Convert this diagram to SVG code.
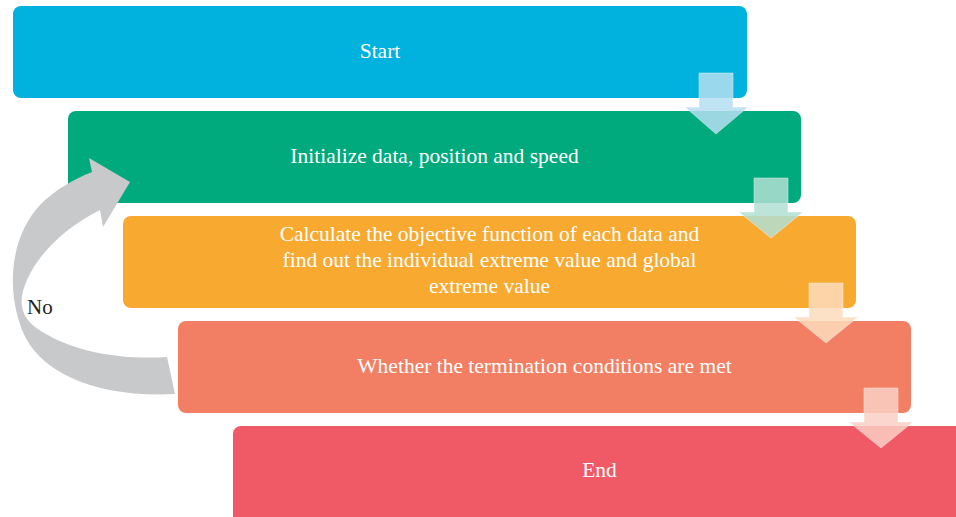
<svg xmlns="http://www.w3.org/2000/svg" width="956" height="517" viewBox="0 0 956 517">
<style>
.box{stroke:none}
.lbl{font-family:"Liberation Serif","Times New Roman",serif;font-size:21.5px;fill:#ffffff;text-anchor:middle}
.no{font-family:"Liberation Serif","Times New Roman",serif;font-size:21px;fill:#231f20}
.arr{stroke:#ffffff;stroke-opacity:0.5;stroke-width:1;opacity:0.85}
</style>
<rect width="956" height="517" fill="#ffffff"/>
<g id="node-start"><rect class="box" x="13" y="6" width="734" height="92" rx="8" fill="#00b2dd"/><text class="lbl" x="380" y="58">Start</text></g>
<g id="node-init"><rect class="box" x="68" y="111" width="733" height="92" rx="8" fill="#00aa7c"/><text class="lbl" x="434.5" y="163">Initialize data, position and speed</text></g>
<g id="node-calc"><rect class="box" x="123" y="216" width="733" height="92" rx="8" fill="#f8a930"/><text class="lbl" x="489.5" y="241">Calculate the objective function of each data and</text><text class="lbl" x="489.5" y="267">find out the individual extreme value and global</text><text class="lbl" x="489.5" y="293">extreme value</text></g>
<g id="node-check"><rect class="box" x="178" y="321" width="733" height="92" rx="8" fill="#f27f63"/><text class="lbl" x="544.5" y="373">Whether the termination conditions are met</text></g>
<g id="node-end"><rect class="box" x="233" y="426" width="740" height="100" rx="8" fill="#f05a66"/><text class="lbl" x="599.5" y="477">End</text></g>
<g id="connectors">
<path class="arr" fill="#b5dff2" d="M699 73 H733 V107 H748 L716 134 L685 107 H699 Z"/>
<path class="arr" fill="#b2e0d2" d="M754 178 H788 V212 H803 L771 238 L739 212 H754 Z"/>
<path class="arr" fill="#fddcbd" d="M809 283 H843 V317 H858 L826 343 L794 317 H809 Z"/>
<path class="arr" fill="#fbcfc4" d="M864 388 H898 V422 H913 L881 448 L849 422 H864 Z"/>
<path fill="#c8c9cb" d="M175 394 C100 398 40 375 22 330 C5 285 12 235 40 205 C55 190 72 180 92 172 L89 158 L130 182 L103 227 L100 210 C70 225 40 250 27 280 C18 300 20 315 35 327 C70 352 120 360 167 357 Z"/>
<text class="no" x="27" y="314">No</text>
</g>
</svg>
